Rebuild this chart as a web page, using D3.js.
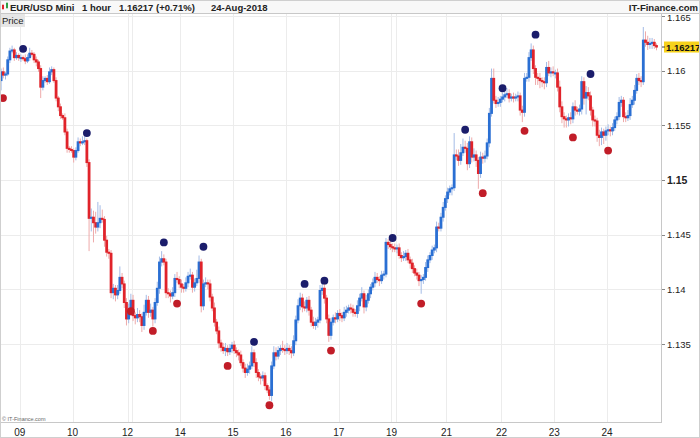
<!DOCTYPE html>
<html>
<head>
<meta charset="utf-8">
<script src="https://cdn.jsdelivr.net/npm/d3@7"></script>
<style>
  body { margin: 0; background: #fff; }
  svg { display: block; font-family: "Liberation Sans", Arial, sans-serif; }
</style>
</head>
<body>
<svg id="chart" width="700" height="438"></svg>
<script>

// EUR/USD Mini, 1 hour candles
const firstOpen = 1.1591
const closes = [
    1.1599, 1.1596, 1.1597, 1.1610, 1.1618, 1.1619, 1.1612, 1.1614, 1.1612, 1.1612,
    1.1611, 1.1609, 1.1612, 1.1616, 1.1615, 1.1610, 1.1608, 1.1602, 1.1585, 1.1591,
    1.1593, 1.1590, 1.1599, 1.1601, 1.1591, 1.1575, 1.1567, 1.1559, 1.1557, 1.1544,
    1.1529, 1.1528, 1.1527, 1.1521, 1.1527, 1.1535, 1.1534, 1.1535, 1.1536, 1.1516,
    1.1465, 1.1466, 1.1461, 1.1457, 1.1461, 1.1465, 1.1464, 1.1445, 1.1434, 1.1433,
    1.1397, 1.1401, 1.1395, 1.1399, 1.1411, 1.1405, 1.1388, 1.1373, 1.1379, 1.1390,
    1.1376, 1.1374, 1.1377, 1.1375, 1.1367, 1.1379, 1.1390, 1.1379, 1.1381, 1.1373,
    1.1388, 1.1401, 1.1425, 1.1428, 1.1425, 1.1397, 1.1396, 1.1394, 1.1397, 1.1410,
    1.1409, 1.1405, 1.1402, 1.1401, 1.1406, 1.1412, 1.1413, 1.1402, 1.1406, 1.1410,
    1.1425, 1.1385, 1.1405, 1.1406, 1.1405, 1.1393, 1.1383, 1.1370, 1.1362, 1.1351,
    1.1347, 1.1344, 1.1346, 1.1343, 1.1346, 1.1349, 1.1344, 1.1342, 1.1340, 1.1333,
    1.1328, 1.1324, 1.1327, 1.1330, 1.1342, 1.1333, 1.1324, 1.1320, 1.1319, 1.1321,
    1.1312, 1.1308, 1.1303, 1.1330, 1.1342, 1.1339, 1.1344, 1.1346, 1.1345, 1.1344,
    1.1346, 1.1344, 1.1342, 1.1353, 1.1372, 1.1385, 1.1392, 1.1384, 1.1383, 1.1390,
    1.1381, 1.1370, 1.1367, 1.1370, 1.1372, 1.1399, 1.1401, 1.1392, 1.1373, 1.1358,
    1.1370, 1.1374, 1.1373, 1.1378, 1.1376, 1.1374, 1.1379, 1.1381, 1.1383, 1.1382,
    1.1379, 1.1378, 1.1385, 1.1392, 1.1396, 1.1384, 1.1390, 1.1396, 1.1402, 1.1406,
    1.1411, 1.1409, 1.1408, 1.1413, 1.1414, 1.1443, 1.1441, 1.1439, 1.1438, 1.1437,
    1.1438, 1.1431, 1.1429, 1.1430, 1.1433, 1.1427, 1.1424, 1.1419, 1.1415, 1.1413,
    1.1408, 1.1409, 1.1411, 1.1420, 1.1427, 1.1431, 1.1436, 1.1438, 1.1457, 1.1456,
    1.1466, 1.1475, 1.1483, 1.1489, 1.1492, 1.1493, 1.1523, 1.1522, 1.1518, 1.1525,
    1.1530, 1.1529, 1.1515, 1.1535, 1.1521, 1.1523, 1.1518, 1.1506, 1.1521, 1.1520,
    1.1522, 1.1534, 1.1561, 1.1593, 1.1573, 1.1570, 1.1571, 1.1574, 1.1576, 1.1578,
    1.1579, 1.1575, 1.1576, 1.1575, 1.1576, 1.1577, 1.1564, 1.1562, 1.1593, 1.1594,
    1.1612, 1.1619, 1.1602, 1.1594, 1.1593, 1.1591, 1.1590, 1.1589, 1.1603, 1.1598,
    1.1599, 1.1598, 1.1598, 1.1585, 1.1567, 1.1558, 1.1556, 1.1555, 1.1557, 1.1556,
    1.1567, 1.1564, 1.1563, 1.1565, 1.1590, 1.1575, 1.1580, 1.1577, 1.1564, 1.1555,
    1.1554, 1.1541, 1.1539, 1.1544, 1.1541, 1.1545, 1.1546, 1.1545, 1.1548, 1.1555,
    1.1558, 1.1571, 1.1573, 1.1558, 1.1557, 1.1559, 1.1569, 1.1573, 1.1582, 1.1593,
    1.1591, 1.1590, 1.1628, 1.1626, 1.1624, 1.1625, 1.1626, 1.1623, 1.16217
]

// Wick length above / below the body, in pips
const wickUp = [
    3,4,2,3,3,4,2,3,2,3, 2,4,3,5,3,2,3,2,3,4, 2,3,4,3,2,3,2,3,2,4, 3,2,3,2,3,4,3,5,4,2,
    3,8,6,10,19,12,8,3,4,3, 3,4,3,5,10,4,3,4,8,6, 5,3,6,4,3,7,5,4,6,3, 4,6,5,7,4,3,4,3,5,4,
    6,3,4,3,5,4,6,3,4,8, 6,3,4,5,3,4,3,5,3,4, 3,4,5,3,4,3,4,3,3,4, 3,4,5,4,6,3,4,3,3,4,
    3,2,3,4,6,5,4,3,7,4, 5,3,4,5,4,6,5,4,5,3, 4,3,5,4,3,5,6,4,3,4, 4,3,5,3,4,3,5,4,3,4,
    4,3,5,4,6,3,5,4,3,4, 5,4,3,4,3,4,3,4,3,4, 3,4,3,5,3,4,3,4,3,4, 3,4,3,5,4,3,4,3,5,4,
    4,5,3,4,3,3,20,5,6,8, 8,6,5,5,4,6,4,3,5,4, 5,4,5,9,9,4,5,3,4,3, 5,4,3,4,3,4,3,4,5,4,
    5,6,4,3,4,5,3,4,5,6, 4,5,3,4,6,5,4,3,4,5, 4,6,3,4,5,4,6,5,4,3, 4,3,5,4,3,4,5,3,4,3,
    4,5,4,3,4,5,6,4,5,4, 5,4,12,8,6,5,4,3,2
]
const wickDown = [
    9,3,4,2,3,2,3,2,3,4, 2,3,2,3,2,3,4,3,10,3, 2,3,2,3,2,3,4,3,2,3, 4,3,2,5,3,2,3,2,3,4,
    30,12,18,6,4,5,3,6,4,5, 5,6,6,4,3,4,5,6,4,3, 5,6,4,5,6,4,3,5,4,7, 4,3,5,4,3,5,4,6,3,4,
    3,4,5,4,3,4,3,5,4,3, 4,6,4,3,5,4,3,4,3,5, 4,3,5,4,3,4,3,4,5,3, 4,5,3,4,3,4,5,4,6,3,
    4,3,4,5,3,4,3,4,3,4, 3,4,5,3,4,3,4,5,3,4, 5,4,3,4,5,3,4,5,4,6, 4,3,4,3,5,4,3,4,3,4,
    4,3,4,5,3,6,4,3,4,3, 4,3,5,3,4,3,4,3,4,3, 4,3,4,3,4,3,5,4,3,4, 5,12,4,3,4,3,4,3,4,3,
    3,4,3,4,3,6,3,4,5,4, 3,4,6,4,5,4,6,14,4,5, 4,3,4,3,3,4,3,4,3,4, 3,4,3,4,3,4,5,9,4,3,
    4,3,5,7,6,7,5,6,4,3, 4,3,5,4,5,6,8,7,6,5, 4,5,3,4,5,6,15,4,5,6, 5,6,8,7,8,5,4,5,4,3,
    4,3,4,5,4,3,4,3,4,3, 4,5,3,4,5,4,5,3,3
]

// Day separators (candle index where the day starts) and their labels
const dayIndex = [9, 33, 58, 60, 82, 106, 130, 154, 178, 180, 203, 228, 252, 276]
const dayLabels = ["09", "10", "12", "", "14", "15", "16", "17", "19", "", "21", "22", "23", "24"]

// Price axis
const priceTicks = [1.135, 1.14, 1.145, 1.15, 1.155, 1.16, 1.165]
const priceLabels = ["1.135", "1.14", "1.145", "1.15", "1.155", "1.16", "1.165"]
const lastPrice = 1.16217

// Swing markers (candle index, price)
const swingHighIndex = [10, 39, 74, 92, 115, 138, 147, 178, 211, 228, 243, 268]
const swingHighPrice = [1.1620, 1.1543, 1.1443, 1.1439, 1.1352, 1.1405, 1.1408, 1.1447, 1.1546, 1.1584, 1.1633, 1.1597]
const swingLowIndex = [0, 59, 69, 80, 103, 122, 150, 191, 219, 238, 260, 276]
const swingLowPrice = [1.1575, 1.1380, 1.1362, 1.1387, 1.1330, 1.1294, 1.1344, 1.1387, 1.1488, 1.1545, 1.1539, 1.1527]


class CandleRenderer {

    constructor(width, height) {
        this.width = width
        this.height = height

        // Plot box
        this.plotLeft = 0
        this.plotRight = 662
        this.plotTop = 14
        this.plotBottom = 422

        this.upColor = "#2a6fd3"
        this.downColor = "#e0232a"
        this.upWick = "#a3bbe6"
        this.downWick = "#eeaaaa"
    }

    render(svg) {

        let x = d3.scaleLinear()
            .domain([0, 301])
            .range([this.plotLeft, this.plotRight])

        let y = d3.scaleLinear()
            .domain([1.12787, 1.16519])
            .range([this.plotBottom, this.plotTop])

        let step = x(1) - x(0)

        // Build candles
        let candles = closes.map((c, i) => {
            let o = i == 0 ? firstOpen : closes[i - 1]
            return {
                i: i,
                o: o,
                c: c,
                h: Math.max(o, c) + wickUp[i] * 0.0001,
                l: Math.min(o, c) - wickDown[i] * 0.0001
            }
        })

        // Grid
        let grid = svg.append("g")

        grid.selectAll(".hgrid")
            .data(priceTicks)
            .enter()
            .append("line")
            .attr("x1", this.plotLeft)
            .attr("x2", this.plotRight)
            .attr("y1", d => Math.round(y(d)) + 0.5)
            .attr("y2", d => Math.round(y(d)) + 0.5)
            .attr("stroke", "#ececec")

        grid.selectAll(".vgrid")
            .data(dayIndex)
            .enter()
            .append("line")
            .attr("x1", d => Math.round(x(d)) + 0.5)
            .attr("x2", d => Math.round(x(d)) + 0.5)
            .attr("y1", this.plotTop)
            .attr("y2", this.plotBottom)
            .attr("stroke", "#ececec")

        // Wicks
        svg.append("g")
            .selectAll("line")
            .data(candles)
            .enter()
            .append("line")
            .attr("x1", d => x(d.i + 0.5))
            .attr("x2", d => x(d.i + 0.5))
            .attr("y1", d => y(d.h))
            .attr("y2", d => y(d.l))
            .attr("stroke", d => d.c >= d.o ? this.upWick : this.downWick)
            .attr("stroke-width", 1)

        // Bodies (a touch wider than one step, so they join up)
        svg.append("g")
            .selectAll("rect")
            .data(candles)
            .enter()
            .append("rect")
            .attr("x", d => x(d.i) - 0.3)
            .attr("width", step + 0.6)
            .attr("y", d => y(Math.max(d.o, d.c)) - 0.5)
            .attr("height", d => Math.max(2, Math.abs(y(d.o) - y(d.c)) + 1))
            .attr("fill", d => d.c >= d.o ? this.upColor : this.downColor)

        // Swing markers
        svg.append("g")
            .selectAll("circle")
            .data(swingHighIndex)
            .enter()
            .append("circle")
            .attr("cx", (d, k) => x(d + 0.5))
            .attr("cy", (d, k) => y(swingHighPrice[k]))
            .attr("r", 3.9)
            .attr("fill", "#1b1d6b")

        svg.append("g")
            .selectAll("circle")
            .data(swingLowIndex)
            .enter()
            .append("circle")
            .attr("cx", (d, k) => Math.max(3, x(d + 0.5)))
            .attr("cy", (d, k) => y(swingLowPrice[k]))
            .attr("r", 3.9)
            .attr("fill", "#c11d28")

        // Right price axis
        svg.append("line")
            .attr("x1", this.plotRight - 0.5)
            .attr("x2", this.plotRight - 0.5)
            .attr("y1", this.plotTop)
            .attr("y2", this.plotBottom)
            .attr("stroke", "#c8c8c8")

        let yAxis = svg.append("g")
        priceTicks.forEach((p, k) => {
            yAxis.append("line")
                .attr("x1", this.plotRight)
                .attr("x2", this.plotRight + 3)
                .attr("y1", Math.round(y(p)) + 0.5)
                .attr("y2", Math.round(y(p)) + 0.5)
                .attr("stroke", "#888")
            yAxis.append("text")
                .attr("x", this.plotRight + 5)
                .attr("y", y(p) + (k == 6 ? 4.5 : 3.6))
                .attr("font-size", priceLabels[k] == "1.15" ? 10.5 : 9.5)
                .attr("font-weight", priceLabels[k] == "1.15" ? "bold" : "normal")
                .attr("fill", "#222")
                .text(priceLabels[k])
        })

        // Last price tag
        yAxis.append("rect")
            .attr("x", this.plotRight + 2)
            .attr("y", y(lastPrice) - 5.5)
            .attr("width", 35)
            .attr("height", 11)
            .attr("fill", "#f6d21c")
        yAxis.append("line")
            .attr("x1", this.plotRight)
            .attr("x2", this.plotRight + 3)
            .attr("y1", y(lastPrice))
            .attr("y2", y(lastPrice))
            .attr("stroke", "#444")
        yAxis.append("text")
            .attr("x", this.plotRight + 4)
            .attr("y", y(lastPrice) + 3.5)
            .attr("font-size", 9.5)
            .attr("font-weight", "bold")
            .attr("fill", "#111")
            .text(d3.format(".5f")(lastPrice))

        // Bottom time axis
        svg.append("line")
            .attr("x1", 0)
            .attr("x2", this.plotRight)
            .attr("y1", this.plotBottom + 0.5)
            .attr("y2", this.plotBottom + 0.5)
            .attr("stroke", "#c8c8c8")

        svg.append("g")
            .selectAll("text")
            .data(dayIndex)
            .enter()
            .append("text")
            .attr("x", d => x(d))
            .attr("y", this.plotBottom + 14)
            .attr("text-anchor", "middle")
            .attr("font-size", 10)
            .attr("fill", "#222")
            .text((d, k) => dayLabels[k])

        // Watermark
        svg.append("text")
            .attr("x", 2)
            .attr("y", this.plotBottom - 1.5)
            .attr("font-size", 5.5)
            .attr("fill", "#666")
            .text("© IT-Finance.com")

        // Header bar
        svg.append("rect")
            .attr("x", 0)
            .attr("y", 0)
            .attr("width", this.width)
            .attr("height", 13)
            .attr("fill", "#f8f8f8")
        svg.append("line")
            .attr("x1", 0)
            .attr("x2", this.width)
            .attr("y1", 13.5)
            .attr("y2", 13.5)
            .attr("stroke", "#c8c8c8")

        // little candle icon
        svg.append("rect").attr("x", 2).attr("y", 5).attr("width", 2).attr("height", 4).attr("fill", "#e2252b")
        svg.append("line").attr("x1", 3).attr("x2", 3).attr("y1", 4).attr("y2", 10).attr("stroke", "#e2252b").attr("stroke-width", 0.6)
        svg.append("rect").attr("x", 6).attr("y", 3).attr("width", 2).attr("height", 5).attr("fill", "#2ea043")
        svg.append("line").attr("x1", 7).attr("x2", 7).attr("y1", 2).attr("y2", 9).attr("stroke", "#2ea043").attr("stroke-width", 0.6)

        let header = [
            ["EUR/USD Mini", 10],
            ["1 hour", 82],
            ["1.16217 (+0.71%)", 119],
            ["24-Aug-2018", 211]
        ]
        header.forEach(h => {
            svg.append("text")
                .attr("x", h[1])
                .attr("y", 10.5)
                .attr("font-size", 9.5)
                .attr("font-weight", "bold")
                .attr("fill", "#222")
                .text(h[0])
        })

        svg.append("text")
            .attr("x", this.width - 2)
            .attr("y", 10.5)
            .attr("text-anchor", "end")
            .attr("font-size", 9.5)
            .attr("font-weight", "bold")
            .attr("fill", "#222")
            .text("IT-Finance.com")

        // "Price" pane title
        svg.append("rect")
            .attr("x", 0)
            .attr("y", 14)
            .attr("width", 25)
            .attr("height", 13)
            .attr("fill", "#e6e6e6")
        svg.append("text")
            .attr("x", 2)
            .attr("y", 23.5)
            .attr("font-size", 9.5)
            .attr("fill", "#222")
            .text("Price")

        // Outer frame
        svg.append("rect")
            .attr("x", 0.5)
            .attr("y", 0.5)
            .attr("width", this.width - 1)
            .attr("height", this.height - 1)
            .attr("fill", "none")
            .attr("stroke", "#cfcfcf")
    }
}

let renderer = new CandleRenderer(700, 438)
renderer.render(d3.select("#chart"))

</script>
</body>
</html>
